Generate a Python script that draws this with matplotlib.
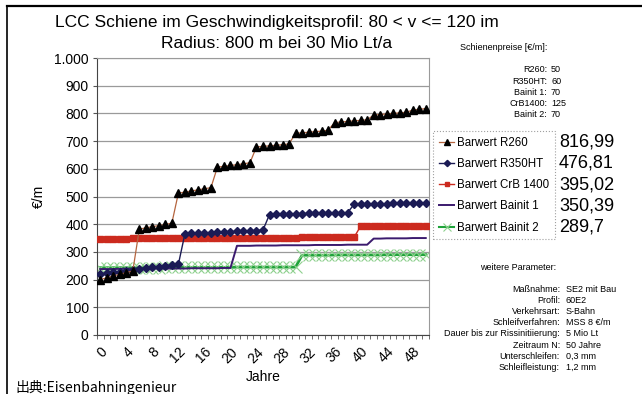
import numpy as np
import matplotlib
matplotlib.use("Agg")
import matplotlib.pyplot as plt
from matplotlib.lines import Line2D

plt.rcParams['font.family'] = ['Liberation Sans', 'DejaVu Sans']

# --- data ---
years = list(range(51))
r260 = [200, 207, 213, 219, 225, 231,
        382, 387, 391, 395, 399, 404,
        512, 516, 520, 524, 528, 532,
        606, 609, 612, 615, 618, 622,
        679, 681, 683, 685, 687, 690,
        728, 730, 732, 734, 736, 739,
        767, 769, 771, 773, 775, 777,
        794, 796, 798, 800, 802, 804,
        812, 815, 817]
r350ht = [220, 223, 226, 229, 232, 235, 238, 241, 244, 247, 250, 252, 255,
          365, 367, 368, 369, 370, 371, 372, 373, 374, 375, 376, 377, 379,
          435, 436, 437, 437, 438, 438, 439, 439, 440, 440, 441, 441, 442,
          472, 472, 473, 473, 474, 474, 475, 475, 476, 476, 477, 477]
crb1400 = [348, 348, 348, 348, 348, 349, 349, 349, 349, 349, 349, 349, 349,
           350, 350, 350, 350, 350, 350, 350, 350, 350, 350, 351, 351, 351,
           351, 351, 351, 351, 351, 352, 352, 352, 352, 352, 352, 352, 352, 353,
           393, 393, 393, 394, 394, 394, 394, 395, 395, 395, 395]
bainit1 = [238, 238, 238, 239, 239, 239, 239, 239, 240, 240, 240, 240, 240,
           240, 241, 241, 241, 241, 241, 242, 242,
           322, 322, 322, 323, 323, 323, 323, 324, 324, 324, 324, 324, 325,
           325, 325, 325, 325, 326, 326, 326, 326,
           348, 348, 349, 349, 349, 349, 350, 350, 350]
bainit2 = [243, 243, 243, 243, 243, 243, 243, 243, 243, 243, 244, 244, 244,
           244, 244, 244, 244, 244, 244, 244, 244, 245, 245, 245, 245, 245,
           245, 245, 245, 245, 245,
           288, 288, 288, 288, 288, 289, 289, 289, 289, 289, 289, 289, 289,
           290, 290, 290, 290, 290, 290, 290]

labels = ['Barwert R260', 'Barwert R350HT', 'Barwert CrB 1400',
          'Barwert Bainit 1', 'Barwert Bainit 2']
endvals = ['816,99', '476,81', '395,02', '350,39', '289,7']

preis_lbl = ['R260:', 'R350HT:', 'Bainit 1:', 'CrB1400:', 'Bainit 2:']
preis_val = ['50', '60', '70', '125', '70']

param_lbl = ['Maßnahme:', 'Profil:', 'Verkehrsart:', 'Schleifverfahren:',
             'Dauer bis zur Rissinitiierung:', 'Zeitraum N:',
             'Unterschleifen:', 'Schleifleistung:']
param_val = ['SE2 mit Bau', '60E2', 'S-Bahn', 'MSS 8 €/m', '5 Mio Lt',
             '50 Jahre', '0,3 mm', '1,2 mm']

W, H = 642, 394
fig = plt.figure(figsize=(W/100, H/100), dpi=100, facecolor='white')
ax = fig.add_axes([97/W, 1-335/H, (429-97)/W, (335-58)/H])

# series
ax.plot(years, bainit2, color='#1fa33a', lw=2, marker='x', ms=9, mew=0.8,
        mec='#8fd08f', zorder=2)
ax.plot(years, bainit1, color='#3b1a6e', lw=1.4, zorder=3)
ax.plot(years, crb1400, color='#cc2a1e', lw=1, marker='s', ms=4.2,
        mec='#cc2a1e', mfc='#cc2a1e', zorder=4)
ax.plot(years, r350ht, color='#1b1b55', lw=1, marker='D', ms=4,
        mec='#1b1b55', mfc='#1b1b55', zorder=5)
ax.plot(years, r260, color='#b5653f', lw=0.9, marker='^', ms=5.5,
        mec='black', mfc='black', zorder=6)

ax.set_xlim(-0.5, 50.5)
ax.set_ylim(0, 1000)
ax.set_yticks(np.arange(0, 1001, 100))
ax.set_yticklabels(['0', '100', '200', '300', '400', '500', '600', '700',
                    '800', '900', '1.000'], fontsize=10)
ax.set_xticks(np.arange(0, 49, 4))
ax.set_xticklabels([str(v) for v in range(0, 49, 4)], fontsize=10,
                   rotation=45, ha='right', va='top', rotation_mode='anchor')
ax.set_xticks(np.arange(-0.5, 51, 1), minor=True)
ax.tick_params(axis='x', which='major', length=0, pad=7)
ax.tick_params(axis='x', which='minor', length=3, color='#555555')
ax.tick_params(axis='y', length=3, color='#555555', pad=3)
ax.yaxis.grid(True, color='#9a9a9a', lw=0.9)
ax.set_axisbelow(True)
for s in ['top', 'right']:
    ax.spines[s].set_color('#9a9a9a')
for s in ['left', 'bottom']:
    ax.spines[s].set_color('#444444')
ax.set_xlabel('Jahre', fontsize=10, labelpad=3)
ax.set_ylabel('€/m', fontsize=10, labelpad=6)

# title
fig.text(277/W, 1-22/H, 'LCC Schiene im Geschwindigkeitsprofil: 80 < v <= 120 im',
         ha='center', va='center', fontsize=12.5)
fig.text(277/W, 1-43/H, 'Radius: 800 m bei 30 Mio Lt/a',
         ha='center', va='center', fontsize=12.5)

# legend
handles = [
    Line2D([], [], color='#b5653f', lw=0.9, marker='^', ms=4.5, mec='black', mfc='black'),
    Line2D([], [], color='#1b1b55', lw=1, marker='D', ms=3.2, mec='#1b1b55', mfc='#1b1b55'),
    Line2D([], [], color='#cc2a1e', lw=1, marker='s', ms=3.2, mec='#cc2a1e', mfc='#cc2a1e'),
    Line2D([], [], color='#3b1a6e', lw=1.4),
    Line2D([], [], color='#1fa33a', lw=1.5, marker='x', ms=6, mew=0.8, mec='#8fd08f'),
]
leg = fig.legend(handles, labels, loc='upper left',
                 bbox_to_anchor=(433/W, 1-131/H), borderaxespad=0,
                 fontsize=8.3, frameon=True, fancybox=False,
                 handlelength=1.35, handletextpad=0.2, labelspacing=0.8,
                 borderpad=0.5)
leg.get_frame().set_edgecolor('#888888')
leg.get_frame().set_linestyle(':')
leg.get_frame().set_linewidth(0.8)

for i, v in enumerate(endvals):
    fig.text(559/W, 1-(142 + 21.3*i)/H, v, ha='left', va='center', fontsize=13)

# price block
fig.text(460/W, 1-48/H, 'Schienenpreise [€/m]:', ha='left', va='center', fontsize=6.5)
for i in range(len(preis_lbl)):
    y = 1-(70 + 11.2*i)/H
    fig.text(547/W, y, preis_lbl[i], ha='right', va='center', fontsize=6.5)
    fig.text(551/W, y, preis_val[i], ha='left', va='center', fontsize=6.5)

# parameter block
fig.text(480/W, 1-268/H, 'weitere Parameter:', ha='left', va='center', fontsize=6.5)
for i in range(len(param_lbl)):
    y = 1-(289 + 11.2*i)/H
    fig.text(560/W, y, param_lbl[i], ha='right', va='center', fontsize=6.5)
    fig.text(566/W, y, param_val[i], ha='left', va='center', fontsize=6.5)

# frame of the scan
fig.add_artist(Line2D([7/W, 1], [1-6/H, 1-6/H], color='black', lw=1.6))
fig.add_artist(Line2D([7/W, 7/W], [0, 1-6/H], color='black', lw=1.2))

fig.text(15/W, 1-380/H, '出典:Eisenbahningenieur', ha='left', va='top',
         fontsize=10, family=['Noto Sans CJK JP', 'Liberation Sans'])

fig.savefig('out.png', dpi=100)
